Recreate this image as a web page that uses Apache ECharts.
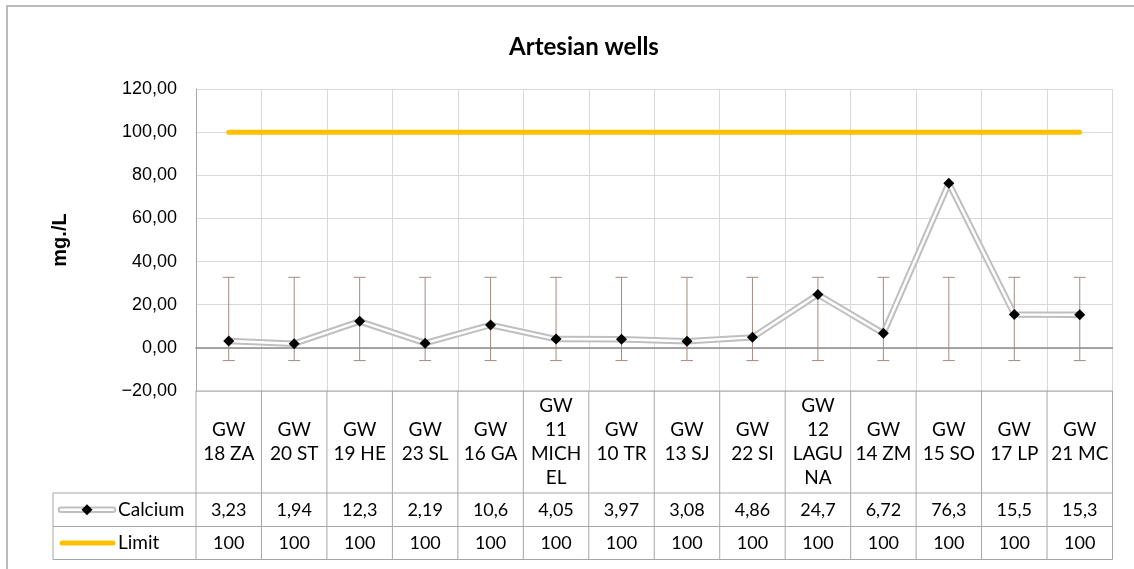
<!DOCTYPE html>
<html>
<head>
<meta charset="utf-8">
<script src="https://cdn.jsdelivr.net/npm/echarts@6/dist/echarts.min.js"></script>
<style>
html,body{margin:0;padding:0;background:#fff;}
#chart{width:1134px;height:569px;}
</style>
</head>
<body>
<div id="chart"></div>
<script>
// ---- data ----
const categories = ["GW\n18 ZA","GW\n20 ST","GW\n19 HE","GW\n23 SL","GW\n16 GA","GW\n11\nMICH\nEL","GW\n10 TR","GW\n13 SJ","GW\n22 SI","GW\n12\nLAGU\nNA","GW\n14 ZM","GW\n15 SO","GW\n17 LP","GW\n21 MC"];
const calcium = [3.23, 1.94, 12.3, 2.19, 10.6, 4.05, 3.97, 3.08, 4.86, 24.7, 6.72, 76.3, 15.5, 15.3];
const limit = [100,100,100,100,100,100,100,100,100,100,100,100,100,100];
const errLow = [-5.9,-5.9,-5.9,-5.9,-5.9,-5.9,-5.9,-5.9,-5.9,-5.9,-5.9,-5.9,-5.9,-5.9];
const errHigh = [32.7,32.7,32.7,32.7,32.7,32.7,32.7,32.7,32.7,32.7,32.7,32.7,32.7,32.7];
const yTicks = {min:-20, max:120, interval:20};
const titleText = "Artesian wells";
const yTitle = "mg./L";
const seriesNames = ["Calcium","Limit"];

const fmtNum = v => String(v).replace('.', ',');
const TABLE_FONT = 'Lato, "Noto Sans", sans-serif';
const GRID_COLOR = '#a6a6a6';

const chart = echarts.init(document.getElementById('chart'), null, {renderer:'canvas'});
const gridL = 196, gridR = 21.5, gridT = 89, gridB = 178;

const errData = categories.map((c,i)=>[i, errLow[i], errHigh[i]]);

chart.setOption({
  animation:false,
  backgroundColor:'#fff',
  grid:{left:gridL, right:gridR, top:gridT, bottom:gridB, containLabel:false},
  xAxis:{
    type:'category', data:categories, boundaryGap:true,
    axisLine:{show:true, onZero:true, lineStyle:{color:'#8c8c8c', width:1.5}},
    axisTick:{show:false}, axisLabel:{show:false},
    splitLine:{show:true, lineStyle:{color:'#d9d9d9', width:1}}
  },
  yAxis:{
    type:'value', min:yTicks.min, max:yTicks.max, interval:yTicks.interval,
    axisLine:{show:true, lineStyle:{color:GRID_COLOR, width:1}},
    axisTick:{show:false},
    axisLabel:{formatter:v=>v.toFixed(2).replace('.',',').replace('-','\u2212'), fontFamily:'"Liberation Sans", Arial, sans-serif', fontSize:18, color:'#000', margin:19},
    splitLine:{show:true, lineStyle:{color:'#d9d9d9', width:1}}
  },
  series:[
    {
      type:'custom', name:'err', data:errData, z:1, silent:true,
      renderItem:(params, api)=>{
        const lo = api.coord([api.value(0), api.value(1)]);
        const hi = api.coord([api.value(0), api.value(2)]);
        const cap = 6;
        const st = {stroke:'#a38b80', lineWidth:1};
        return {type:'group', children:[
          {type:'line', shape:{x1:lo[0], y1:lo[1], x2:hi[0], y2:hi[1]}, style:st},
          {type:'line', shape:{x1:lo[0]-cap, y1:lo[1], x2:lo[0]+cap, y2:lo[1]}, style:st},
          {type:'line', shape:{x1:hi[0]-cap, y1:hi[1], x2:hi[0]+cap, y2:hi[1]}, style:st}
        ]};
      }
    },
    {type:'line', name:seriesNames[1], data:limit, z:2, showSymbol:false, symbol:'none',
     lineStyle:{color:'#ffc000', width:5, cap:'round'}, silent:true},
    {type:'line', name:seriesNames[0]+'_o', data:calcium, z:3, showSymbol:false, symbol:'none',
     lineStyle:{color:'#bfbfbf', width:6.5}, silent:true},
    {type:'line', name:seriesNames[0], data:calcium, z:4, symbol:'diamond', symbolSize:11, showSymbol:true,
     itemStyle:{color:'#000'}, lineStyle:{color:'#fff', width:2.5}, silent:true}
  ]
});

// ---- data table and decorations built from the axis pixel positions ----
const centers = categories.map((c,i)=>chart.convertToPixel({xAxisIndex:0}, i));
const bw = centers.length>1 ? centers[1]-centers[0] : 60;
const plotLeft = centers[0]-bw/2, plotRight = centers[centers.length-1]+bw/2;
const yBottom = chart.convertToPixel({yAxisIndex:0}, yTicks.min);
const rowHeadBot = 493, rowCalBot = 526.5, rowLimBot = 559.5;
const legendLeft = 53;
const g = [];
const ls = {stroke:GRID_COLOR, lineWidth:1};
// outer frame
g.push({type:'rect', shape:{x:7, y:6, width:1200, height:700}, style:{fill:null, stroke:'#a6a6a6', lineWidth:1.5}, z:0});
// horizontal table lines
g.push({type:'line', shape:{x1:plotLeft, y1:yBottom, x2:plotRight, y2:yBottom}, style:ls, z:10});
[rowHeadBot, rowCalBot, rowLimBot].forEach(y=>g.push({type:'line', shape:{x1:legendLeft, y1:y, x2:plotRight, y2:y}, style:ls, z:10}));
// vertical table lines
for(let i=0;i<=categories.length;i++){
  const x = plotLeft + i*bw;
  g.push({type:'line', shape:{x1:x, y1:yBottom, x2:x, y2:rowLimBot}, style:ls, z:10});
}
g.push({type:'line', shape:{x1:legendLeft, y1:rowHeadBot, x2:legendLeft, y2:rowLimBot}, style:ls, z:10});
// category labels
const headMid = (yBottom + rowHeadBot)/2;
categories.forEach((c,i)=>{
  g.push({type:'text', x:centers[i], y:headMid, z:11, style:{text:c, fontFamily:TABLE_FONT, fontSize:19, lineHeight:24, fill:'#000', align:'center', verticalAlign:'middle'}});
  g.push({type:'text', x:centers[i], y:(rowHeadBot+rowCalBot)/2, z:11, style:{text:fmtNum(calcium[i]), fontFamily:TABLE_FONT, fontSize:18, fill:'#000', align:'center', verticalAlign:'middle'}});
  g.push({type:'text', x:centers[i], y:(rowCalBot+rowLimBot)/2, z:11, style:{text:fmtNum(limit[i]), fontFamily:TABLE_FONT, fontSize:18, fill:'#000', align:'center', verticalAlign:'middle'}});
});
// legend keys
const calY = (rowHeadBot+rowCalBot)/2, limY = (rowCalBot+rowLimBot)/2;
g.push({type:'line', shape:{x1:61, y1:calY, x2:113, y2:calY}, style:{stroke:'#bfbfbf', lineWidth:6.5, lineCap:'round'}, z:11});
g.push({type:'line', shape:{x1:61, y1:calY, x2:113, y2:calY}, style:{stroke:'#fff', lineWidth:2.5, lineCap:'round'}, z:12});
g.push({type:'polygon', shape:{points:[[87,calY-5.5],[92.5,calY],[87,calY+5.5],[81.5,calY]]}, style:{fill:'#000'}, z:13});
g.push({type:'line', shape:{x1:62, y1:limY, x2:113, y2:limY}, style:{stroke:'#ffc000', lineWidth:5, lineCap:'round'}, z:11});
g.push({type:'text', x:118, y:calY, z:11, style:{text:seriesNames[0], fontFamily:TABLE_FONT, fontSize:19, fill:'#000', align:'left', verticalAlign:'middle'}});
g.push({type:'text', x:118, y:limY, z:11, style:{text:seriesNames[1], fontFamily:TABLE_FONT, fontSize:19, fill:'#000', align:'left', verticalAlign:'middle'}});
// title and axis title
g.push({type:'text', x:584, y:47, z:11, style:{text:titleText, fontFamily:TABLE_FONT, fontWeight:'bold', fontSize:24, fill:'#000', align:'center', verticalAlign:'middle'}});
g.push({type:'text', x:60, y:240, rotation:Math.PI/2, z:11, style:{text:yTitle, fontFamily:'"Liberation Sans", Arial, sans-serif', fontWeight:'bold', fontSize:20, fill:'#000', align:'center', verticalAlign:'middle'}});

chart.setOption({graphic:{elements:g}});
</script>
</body>
</html>
